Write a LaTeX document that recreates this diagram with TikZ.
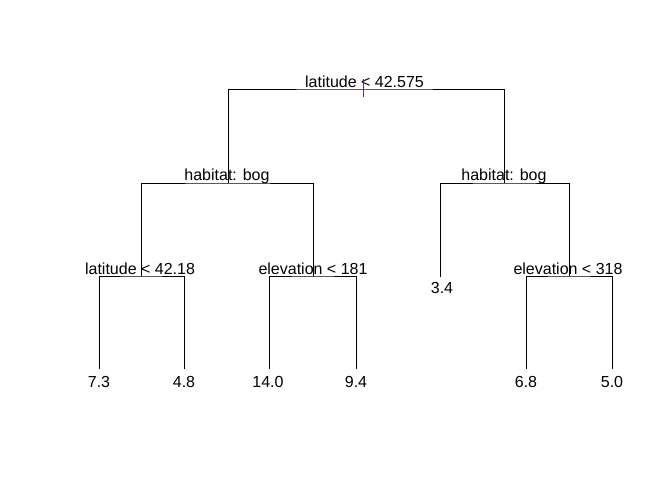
\documentclass[tikz,border=0pt]{standalone}
\usepackage{fontspec}
\setmainfont{Liberation Sans}
\definecolor{tickpurple}{RGB}{88,40,140}
\begin{document}
\begin{tikzpicture}[x=1pt,y=-1pt,
  branch/.style={line width=1pt,black},
  lbl/.style={anchor=base,inner sep=0pt,font=\fontsize{16}{19}\selectfont}]
\useasboundingbox (0,0) rectangle (672,480);
% tree node positions
\coordinate (n1) at (363,89);
\coordinate (n2) at (228,183);
\coordinate (n3) at (504,183);
\coordinate (n4) at (141,276);
\coordinate (n5) at (313,276);
\coordinate (n6) at (440,277);
\coordinate (n7) at (569,276);
\coordinate (n8) at (99,369);
\coordinate (n9) at (184,369);
\coordinate (n10) at (269,369);
\coordinate (n11) at (356,369);
\coordinate (n14) at (526,369);
\coordinate (n15) at (612,369);
% branches
\draw[branch] (n2) |- (n1) -| (n3);
\draw[branch] (n4) |- (n2) -| (n5);
\draw[branch] (n6) |- (n3) -| (n7);
\draw[branch] (n8) |- (n4) -| (n9);
\draw[branch] (n10) |- (n5) -| (n11);
\draw[branch] (n14) |- (n7) -| (n15);
% labels
\node[lbl] (t1) at (364.5,87) {latitude < 42.575};
\node[lbl] (t2) at (227,180) {habitat: bog};
\node[lbl] (t3) at (504,180) {habitat: bog};
\node[lbl] (t4) at (140,274) {latitude < 42.18};
\node[lbl] (t5) at (313,274) {elevation < 181};
\node[lbl] (t7) at (568,274) {elevation < 318};
\node[lbl] (t6) at (442,293) {3.4};
\node[lbl] (t8) at (99,387) {7.3};
\node[lbl] (t9) at (184,387) {4.8};
\node[lbl] (t10) at (268,387) {14.0};
\node[lbl] (t11) at (356,387) {9.4};
\node[lbl] (t14) at (526,387) {6.8};
\node[lbl] (t15) at (612,387) {5.0};
% identify tick
\coordinate (k1) at (363,79);
\coordinate (k2) at (363,97);
\draw[line width=1pt,tickpurple] (k1) -- (k2);
\end{tikzpicture}
\end{document}
